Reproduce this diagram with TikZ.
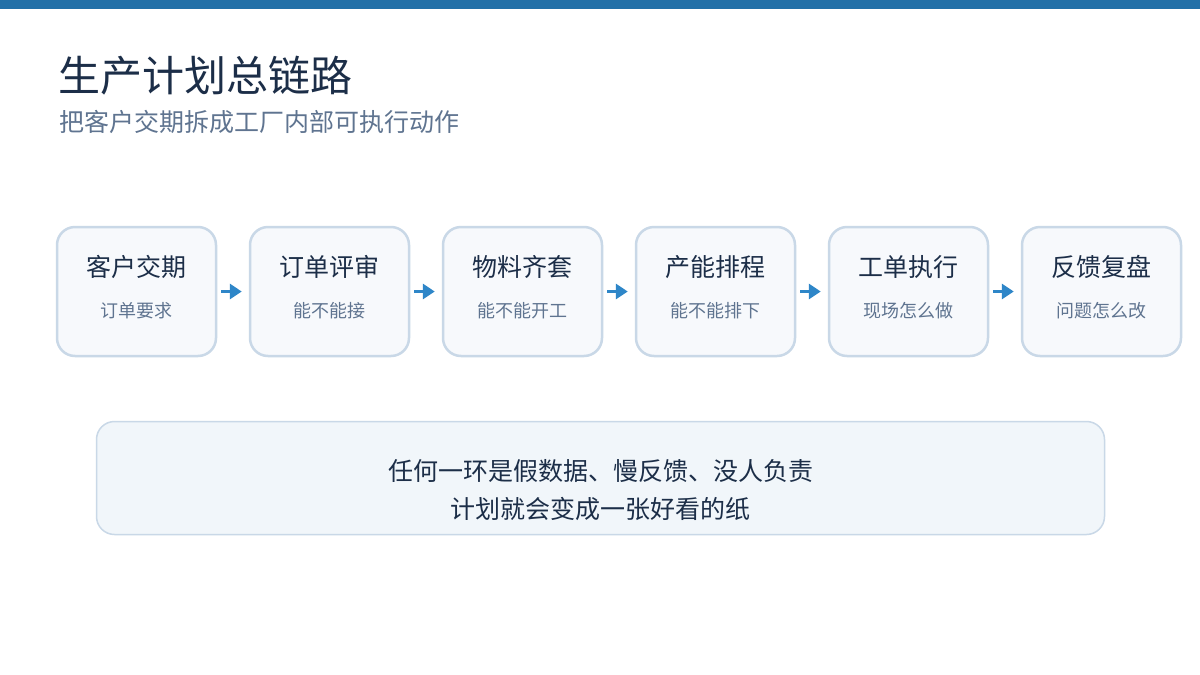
\documentclass[tikz,border=0pt]{standalone}
\usepackage{fontspec}
\setmainfont{Noto Sans CJK SC}
\usetikzlibrary{arrows.meta}
\definecolor{barblue}{HTML}{2270A8}
\definecolor{titlecol}{HTML}{1C2E48}
\definecolor{subcol}{HTML}{5F7490}
\definecolor{boxline}{HTML}{C9D8E7}
\definecolor{boxfill}{HTML}{F7F9FC}
\definecolor{notefill}{HTML}{F1F6FA}
\definecolor{arrowcol}{HTML}{2E86C8}
\begin{document}
\begin{tikzpicture}[x=1pt,y=-1pt,
  stepbox/.style={draw=boxline,line width=2.5pt,fill=boxfill,rounded corners=18pt,minimum width=159pt,minimum height=129pt,inner sep=0pt},
  boxhead/.style={font=\fontsize{25}{28}\selectfont,text=titlecol},
  boxsub/.style={font=\fontsize{18}{20}\selectfont,text=subcol},
  flow/.style={draw=arrowcol,line width=3.5pt,-{Triangle[length=12pt,width=15pt]},shorten >=-1pt},
  notebox/.style={draw=boxline,line width=1.5pt,fill=notefill,rounded corners=18pt,minimum width=1008pt,minimum height=113pt,inner sep=0pt}]
\useasboundingbox (0,0) rectangle (1200,675);
\fill[white] (0,0) rectangle (1200,675);
\fill[barblue] (0,0) rectangle (1200,9);
\node[anchor=west,inner sep=0pt,text=titlecol,font=\fontsize{42}{48}\selectfont] (title) at (58,76) {生产计划总链路};
\node[anchor=west,inner sep=0pt,text=subcol,font=\fontsize{25}{30}\selectfont] (subtitle) at (59,122) {把客户交期拆成工厂内部可执行动作};
\foreach \i/\h/\s in {0/客户交期/订单要求,1/订单评审/能不能接,2/物料齐套/能不能开工,3/产能排程/能不能排下,4/工单执行/现场怎么做,5/反馈复盘/问题怎么改}{
  \node[stepbox] (b\i) at ({136.5+193*\i},291.5) {};
  \node[boxhead] (h\i) at ({136.5+193*\i},267) {\h};
  \node[boxsub] (s\i) at ({136.5+193*\i},311) {\s};
}
\foreach \i [evaluate=\i as \j using int(\i+1)] in {0,...,4}{
  \draw[flow] ([xshift=4pt]b\i.east) -- ([xshift=-8pt]b\j.west);
}
\node[notebox] (note) at (600.5,478) {};
\node[text=titlecol,font=\fontsize{25}{38}\selectfont,align=center,inner sep=0pt] (notetext) at (600.5,490) {任何一环是假数据、慢反馈、没人负责\\计划就会变成一张好看的纸};
\end{tikzpicture}
\end{document}
